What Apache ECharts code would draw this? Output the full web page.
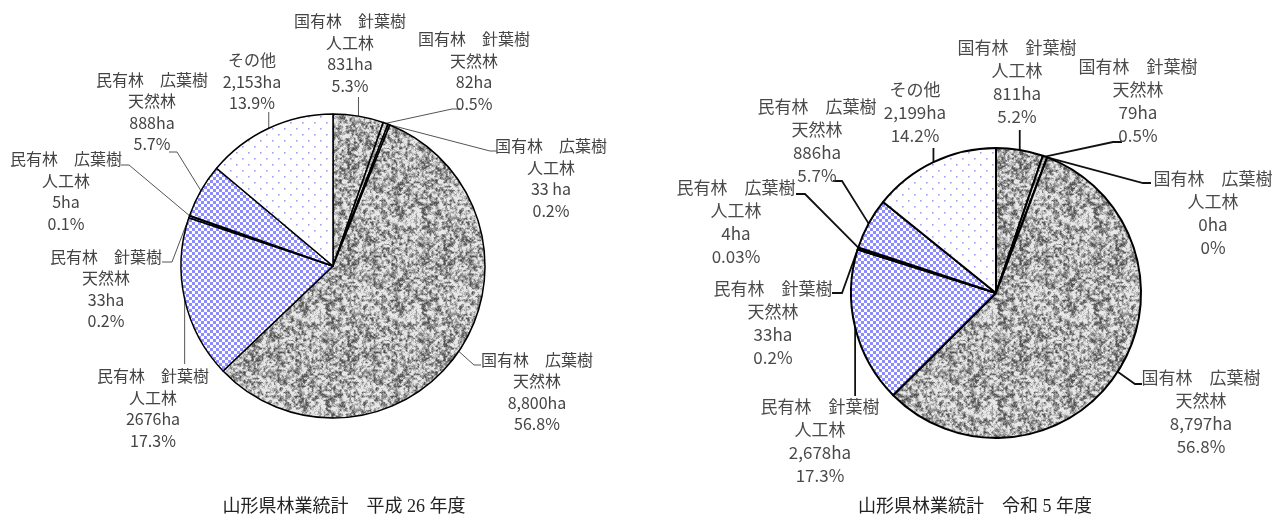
<!DOCTYPE html>
<html>
<head>
<meta charset="utf-8">
<script src="https://cdn.jsdelivr.net/npm/echarts/dist/echarts.min.js"></script>
<style>
  html, body { margin: 0; padding: 0; background: #fff; }
  #chart { width: 1275px; height: 519px; }
</style>
</head>
<body>
<div id="chart"></div>
<script>
// ---------- data ----------
const categories = [
  '国有林　針葉樹\n人工林', '国有林　針葉樹\n天然林', '国有林　広葉樹\n人工林', '国有林　広葉樹\n天然林',
  '民有林　針葉樹\n人工林', '民有林　針葉樹\n天然林', '民有林　広葉樹\n人工林', '民有林　広葉樹\n天然林', 'その他'
];
const valuesH26 = [831, 82, 33, 8800, 2676, 33, 5, 888, 2153];
const areaLabelsH26 = ['831ha', '82ha', '33 ha', '8,800ha', '2676ha', '33ha', '5ha', '888ha', '2,153ha'];
const shareLabelsH26 = ['5.3%', '0.5%', '0.2%', '56.8%', '17.3%', '0.2%', '0.1%', '5.7%', '13.9%'];

const valuesR5 = [811, 79, 0, 8797, 2678, 33, 4, 886, 2199];
const areaLabelsR5 = ['811ha', '79ha', '0ha', '8,797ha', '2,678ha', '33ha', '4ha', '886ha', '2,199ha'];
const shareLabelsR5 = ['5.2%', '0.5%', '0%', '56.8%', '17.3%', '0.2%', '0.03%', '5.7%', '14.2%'];

const chartTitles = ['山形県林業統計　平成 26 年度', '山形県林業統計　令和 5 年度'];

// ---------- label layout (block centre and leader bends, px) ----------
const labelPosH26 = [[350, 53.5], [474, 71.5], [551, 178.5], [537, 392], [153, 408.5], [106, 289], [66, 191.5], [152, 112], [252, 81.5]];
const guideH26 = [[97], [452, 109, 460], [490, 151, 497], [474, 365, 481], [364], [172, 262, 162], [129, 165, 121], [177, 152, 169], [112]];
const labelPosR5 = [[1017, 82.5], [1138, 101.5], [1213, 213.5], [1201, 412.5], [820, 441.5], [773, 323], [736, 222], [817, 141.5], [915, 113]];
const guideR5 = [[130], [1113, 142, 1122], [1143, 183, 1151], [1135, 384, 1142], [396], [842, 293, 832], [805, 194, 796], [842, 181, 833], [148]];

// ---------- textures ----------
function hash(x, y, s) { const h = Math.sin(x * 127.1 + y * 311.7 + s * 74.7) * 43758.5453; return h - Math.floor(h); }
function lattice(px, py, cell, period, s) {
  const n = period / cell;
  const gx = px / cell, gy = py / cell;
  const x0 = Math.floor(gx), y0 = Math.floor(gy);
  const fx = gx - x0, fy = gy - y0;
  const v = (i, j) => hash(((i % n) + n) % n, ((j % n) + n) % n, s);
  const sx = fx * fx * (3 - 2 * fx), sy = fy * fy * (3 - 2 * fy);
  const a = v(x0, y0), b = v(x0 + 1, y0), c = v(x0, y0 + 1), d = v(x0 + 1, y0 + 1);
  return a + (b - a) * sx + (c - a) * sy + (a - b - c + d) * sx * sy;
}
function granite() {
  const S = 96, cv = document.createElement('canvas'); cv.width = S; cv.height = S;
  const ctx = cv.getContext('2d'), img = ctx.createImageData(S, S);
  for (let y = 0; y < S; y++) for (let x = 0; x < S; x++) {
    const v = 0.5 * lattice(x, y, 2, S, 1) + 0.3 * lattice(x, y, 4, S, 2) + 0.2 * hash(x, y, 3);
    let g = 255 * (0.7 + (v - 0.5) * 1.4);
    g = Math.max(80, Math.min(232, g));
    const k = (y * S + x) * 4;
    img.data[k] = g; img.data[k + 1] = g; img.data[k + 2] = g; img.data[k + 3] = 255;
  }
  ctx.putImageData(img, 0, 0);
  return cv;
}
function checker() {
  const cv = document.createElement('canvas'); cv.width = 6; cv.height = 6;
  const ctx = cv.getContext('2d');
  ctx.fillStyle = '#ffffff'; ctx.fillRect(0, 0, 6, 6);
  ctx.fillStyle = '#8c8cff'; ctx.fillRect(0, 0, 3, 3); ctx.fillRect(3, 3, 3, 3);
  return cv;
}
function dots() {
  const cv = document.createElement('canvas'); cv.width = 12; cv.height = 12;
  const ctx = cv.getContext('2d');
  ctx.fillStyle = '#ffffff'; ctx.fillRect(0, 0, 12, 12);
  ctx.fillStyle = '#a0a0f0';
  ctx.fillRect(2, 2, 1.6, 1.6); ctx.fillRect(8, 8, 1.6, 1.6);
  return cv;
}
const patGranite = { image: granite(), repeat: 'repeat' };
const patChecker = { image: checker(), repeat: 'repeat' };
const patDots = { image: dots(), repeat: 'repeat' };
const slicePatterns = [patGranite, patGranite, patGranite, patGranite, patChecker, patChecker, patChecker, patChecker, patDots];

const labelFont = '"Noto Sans CJK JP", "Noto Sans", sans-serif';
const titleFont = '"Liberation Serif", "Noto Sans CJK JP", serif';

function makeLayout(pos, guide) {
  return function (params) {
    const i = params.dataIndex, p = pos[i], g = guide[i];
    const res = { x: p[0], y: p[1], align: 'center', verticalAlign: 'middle' };
    const lp = params.labelLinePoints;
    if (lp && lp.length) {
      const e = lp[0];
      res.labelLinePoints = g.length === 1 ? [e, [e[0], g[0]]] : [e, [g[0], g[1]], [g[2], g[1]]];
    }
    return res;
  };
}

function makeSeries(values, areas, shares, center, radius, pos, guide, opt) {
  return {
    type: 'pie',
    center: center,
    radius: radius,
    startAngle: 90,
    clockwise: true,
    avoidLabelOverlap: false,
    minShowLabelAngle: 0,
    silent: true,
    animation: false,
    data: values.map((v, i) => ({
      name: categories[i], value: v,
      itemStyle: { color: slicePatterns[i] }
    })),
    itemStyle: { borderColor: '#000', borderWidth: opt.border },
    label: {
      show: true, position: 'outside',
      formatter: (p) => categories[p.dataIndex] + '\n' + areas[p.dataIndex] + '\n' + shares[p.dataIndex],
      fontSize: opt.fontSize, lineHeight: opt.lineHeight, color: opt.textColor,
      fontFamily: labelFont, align: 'center'
    },
    labelLine: {
      show: true, showAbove: true, smooth: false, length: 10, length2: 10,
      lineStyle: { color: opt.lineColor, width: opt.lineWidth }
    },
    labelLayout: makeLayout(pos, guide)
  };
}

const chart = echarts.init(document.getElementById('chart'), null, { renderer: 'canvas' });
chart.setOption({
  backgroundColor: '#ffffff',
  animation: false,
  title: [
    { text: chartTitles[0], left: 344, top: 498, textAlign: 'center', padding: 0,
      textStyle: { fontSize: 18, fontWeight: 'normal', color: '#222', fontFamily: titleFont } },
    { text: chartTitles[1], left: 975, top: 498, textAlign: 'center', padding: 0,
      textStyle: { fontSize: 18, fontWeight: 'normal', color: '#222', fontFamily: titleFont } }
  ],
  series: [
    makeSeries(valuesH26, areaLabelsH26, shareLabelsH26, [333, 266], 152, labelPosH26, guideH26,
      { border: 1.5, fontSize: 16, lineHeight: 21.5, textColor: '#444', lineColor: '#555', lineWidth: 1 }),
    makeSeries(valuesR5, areaLabelsR5, shareLabelsR5, [996, 293], 145, labelPosR5, guideR5,
      { border: 2, fontSize: 17, lineHeight: 23, textColor: '#4a4a4a', lineColor: '#111', lineWidth: 1.8 })
  ]
});
</script>
</body>
</html>
